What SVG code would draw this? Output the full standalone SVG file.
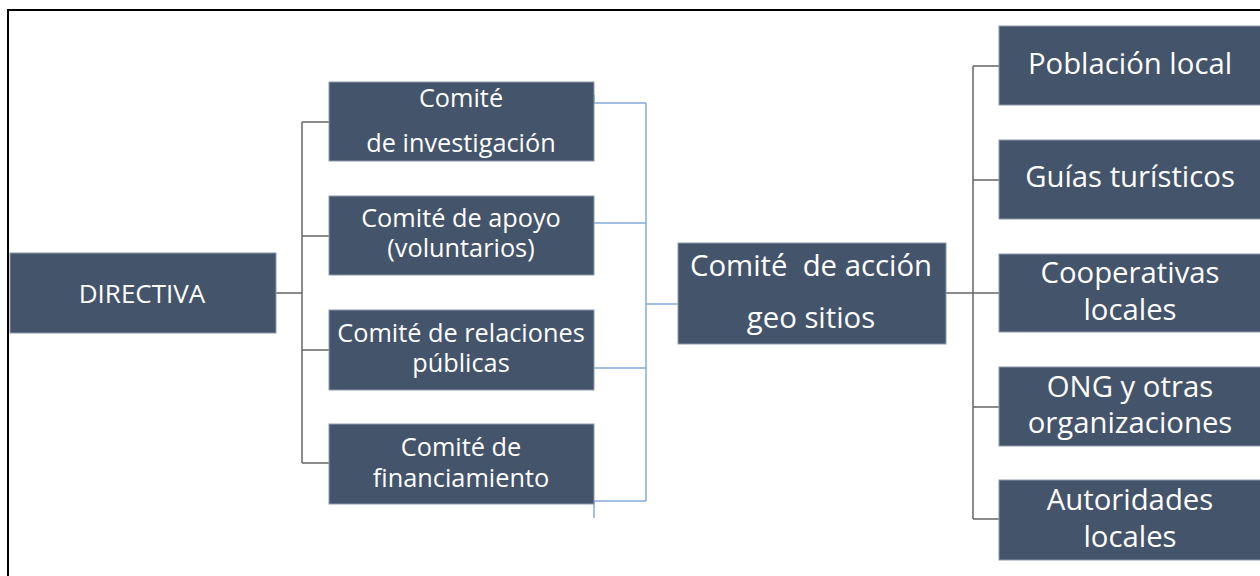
<svg xmlns="http://www.w3.org/2000/svg" width="1260" height="576" viewBox="0 0 1260 576">
<style>
.box{fill:#44546A;stroke:#8C99AB;stroke-width:1}
.t{fill:#FFFFFF;font-family:"Open Sans","Noto Sans","Liberation Sans",sans-serif;text-anchor:middle}
.s{font-size:25.3px}
.d{font-size:26px}
.m{font-size:29.3px}
.g{fill:none;stroke:#666666;stroke-width:1.5}
.b{fill:none;stroke:#85ACDC;stroke-width:1.5}
</style>
<rect x="0" y="0" width="1260" height="576" fill="#FFFFFF"/>
<rect x="8" y="10" width="1270" height="600" fill="none" stroke="#000000" stroke-width="2"/>
<g id="connectors">
  <path class="g" d="M276 293H302M302 122V463M302 122H329M302 236H329M302 350H329M302 463H329"/>
  <path class="b" d="M594 95V103H646M594 223H646M594 368H646M594 518V501H646M646 103V501M646 304H697"/>
  <path class="g" d="M946 293H973M973 66V519M973 66H999M973 180H999M973 293H999M973 407H999M973 519H999"/>
</g>
<g id="directiva">
  <rect class="box" x="10" y="253" width="266" height="80"/>
  <text class="t d" x="142" y="303">DIRECTIVA</text>
</g>
<g id="investigacion">
  <rect class="box" x="329" y="82" width="265" height="79"/>
  <text class="t s" x="461" y="107">Comité</text>
  <text class="t s" x="461" y="152">de investigación</text>
</g>
<g id="apoyo">
  <rect class="box" x="329" y="196" width="265" height="79"/>
  <text class="t s" x="461" y="227">Comité de apoyo</text>
  <text class="t s" x="461" y="257">(voluntarios)</text>
</g>
<g id="relaciones">
  <rect class="box" x="329" y="310" width="265" height="80"/>
  <text class="t s" x="461" y="342">Comité de relaciones</text>
  <text class="t s" x="461" y="372">públicas</text>
</g>
<g id="financiamiento">
  <rect class="box" x="329" y="424" width="265" height="80"/>
  <text class="t s" x="461" y="456">Comité de</text>
  <text class="t s" x="461" y="487">financiamiento</text>
</g>
<g id="accion">
  <rect class="box" x="678" y="243" width="268" height="101"/>
  <text class="t m" x="811" y="276" xml:space="preserve">Comité  de acción</text>
  <text class="t m" x="811" y="328">geo sitios</text>
</g>
<g id="poblacion">
  <rect class="box" x="999" y="26" width="264" height="79"/>
  <text class="t m" x="1130" y="74">Población local</text>
</g>
<g id="guias">
  <rect class="box" x="999" y="140" width="264" height="79"/>
  <text class="t m" x="1130" y="187">Guías turísticos</text>
</g>
<g id="cooperativas">
  <rect class="box" x="999" y="254" width="264" height="78"/>
  <text class="t m" x="1130" y="283">Cooperativas</text>
  <text class="t m" x="1130" y="320">locales</text>
</g>
<g id="ong">
  <rect class="box" x="999" y="367" width="264" height="79"/>
  <text class="t m" x="1130" y="397">ONG y otras</text>
  <text class="t m" x="1130" y="433">organizaciones</text>
</g>
<g id="autoridades">
  <rect class="box" x="999" y="480" width="264" height="80"/>
  <text class="t m" x="1130" y="510">Autoridades</text>
  <text class="t m" x="1130" y="547">locales</text>
</g>
</svg>
